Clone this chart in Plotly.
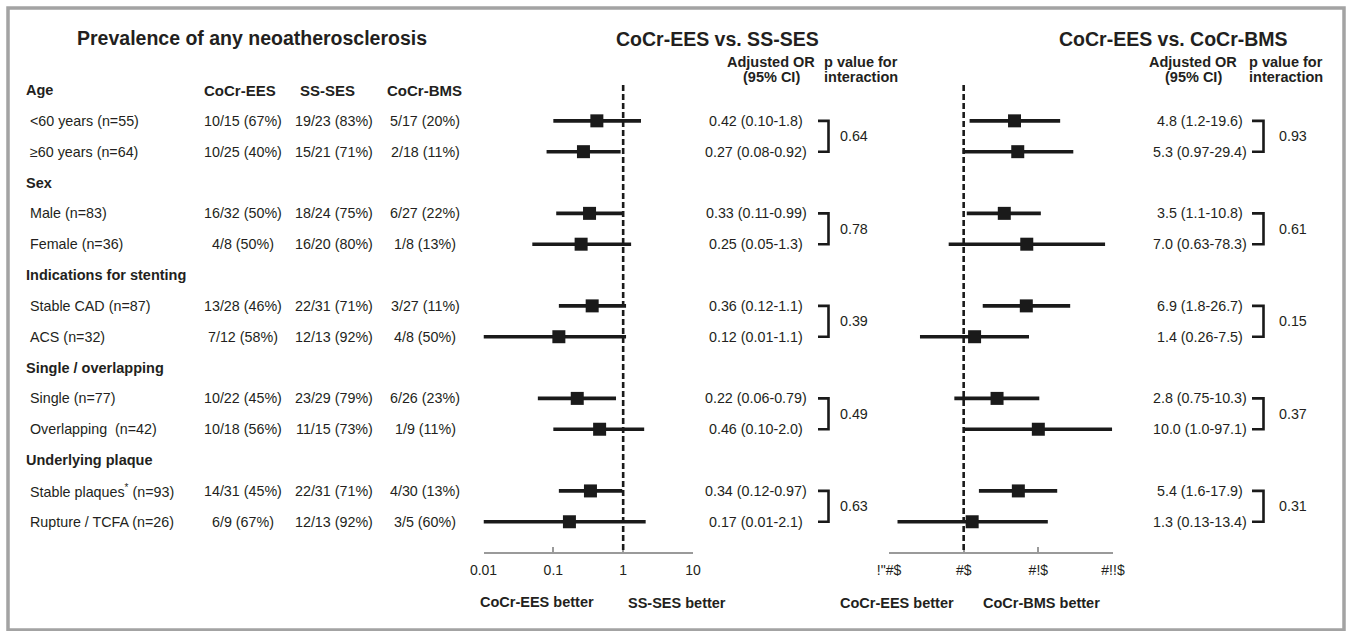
import plotly.graph_objects as go

W, H = 1346, 631

# ---------------- data ----------------
group_names = ["Age", "Sex", "Indications for stenting", "Single / overlapping", "Underlying plaque"]
sub_labels = ["<60 years (n=55)", "≥60 years (n=64)",
              "Male (n=83)", "Female (n=36)",
              "Stable CAD (n=87)", "ACS (n=32)",
              "Single (n=77)", "Overlapping  (n=42)",
              "Stable plaques<sup>*</sup> (n=93)", "Rupture / TCFA (n=26)"]
col_headers = ["CoCr-EES", "SS-SES", "CoCr-BMS"]
ees_counts = ["10/15 (67%)", "10/25 (40%)", "16/32 (50%)", "4/8 (50%)", "13/28 (46%)",
              "7/12 (58%)", "10/22 (45%)", "10/18 (56%)", "14/31 (45%)", "6/9 (67%)"]
ses_counts = ["19/23 (83%)", "15/21 (71%)", "18/24 (75%)", "16/20 (80%)", "22/31 (71%)",
              "12/13 (92%)", "23/29 (79%)", "11/15 (73%)", "22/31 (71%)", "12/13 (92%)"]
bms_counts = ["5/17 (20%)", "2/18 (11%)", "6/27 (22%)", "1/8 (13%)", "3/27 (11%)",
              "4/8 (50%)", "6/26 (23%)", "1/9 (11%)", "4/30 (13%)", "3/5 (60%)"]

or_ses = [0.42, 0.27, 0.33, 0.25, 0.36, 0.12, 0.22, 0.46, 0.34, 0.17]
lo_ses = [0.10, 0.08, 0.11, 0.05, 0.12, 0.01, 0.06, 0.10, 0.12, 0.01]
hi_ses = [1.8, 0.92, 0.99, 1.3, 1.1, 1.1, 0.79, 2.0, 0.97, 2.1]
or_ses_txt = ["0.42 (0.10-1.8)", "0.27 (0.08-0.92)", "0.33 (0.11-0.99)", "0.25 (0.05-1.3)",
              "0.36 (0.12-1.1)", "0.12 (0.01-1.1)", "0.22 (0.06-0.79)", "0.46 (0.10-2.0)",
              "0.34 (0.12-0.97)", "0.17 (0.01-2.1)"]
p_ses = ["0.64", "0.78", "0.39", "0.49", "0.63"]

or_bms = [4.8, 5.3, 3.5, 7.0, 6.9, 1.4, 2.8, 10.0, 5.4, 1.3]
lo_bms = [1.2, 0.97, 1.1, 0.63, 1.8, 0.26, 0.75, 1.0, 1.6, 0.13]
hi_bms = [19.6, 29.4, 10.8, 78.3, 26.7, 7.5, 10.3, 97.1, 17.9, 13.4]
or_bms_txt = ["4.8 (1.2-19.6)", "5.3 (0.97-29.4)", "3.5 (1.1-10.8)", "7.0 (0.63-78.3)",
              "6.9 (1.8-26.7)", "1.4 (0.26-7.5)", "2.8 (0.75-10.3)", "10.0 (1.0-97.1)",
              "5.4 (1.6-17.9)", "1.3 (0.13-13.4)"]
p_bms = ["0.93", "0.61", "0.15", "0.37", "0.31"]

ticks_ses = [0.01, 0.1, 1, 10]
ticktext_ses = ["0.01", "0.1", "1", "10"]
ticks_bms = [0.1, 1, 10, 100]
ticktext_bms = ['!"#$', '#$', '#!$', '#!!$']
REF_OR = 1

# ---------------- layout helpers ----------------
ROW0_PX, ROW_PX = 90.0, 30.84
def row_of_px(py_):
    return (py_ - ROW0_PX) / ROW_PX
def px(x):
    return x / W
def py(y):
    return 1 - y / H

sub_rows = []
for g in range(len(group_names)):
    sub_rows += [3 * g + 1, 3 * g + 2]

INK = "#1a1a1a"
TXT = "#231f20"
FONT = "Liberation Sans, Arial, sans-serif"
BODY = 14.3

fig = go.Figure()

def ci_trace(lo, hi, xa):
    xs, ys = [], []
    for r, a, b in zip(sub_rows, lo, hi):
        xs += [a, b, None]
        ys += [r, r, None]
    return go.Scatter(x=xs, y=ys, mode="lines", xaxis=xa, yaxis="y",
                      line=dict(color=INK, width=3.6), hoverinfo="skip", showlegend=False,
                      cliponaxis=False)

fig.add_trace(ci_trace(lo_ses, hi_ses, "x"))
fig.add_trace(go.Scatter(x=or_ses, y=sub_rows, mode="markers", xaxis="x", yaxis="y",
                         marker=dict(symbol="square", size=13, color=INK), showlegend=False,
                         cliponaxis=False))
fig.add_trace(ci_trace(lo_bms, hi_bms, "x2"))
fig.add_trace(go.Scatter(x=or_bms, y=sub_rows, mode="markers", xaxis="x2", yaxis="y",
                         marker=dict(symbol="square", size=13, color=INK), showlegend=False,
                         cliponaxis=False))

ann = []
def T(x, y, text, size=BODY, bold=False, xanchor="center", yref="y", color=TXT):
    if bold:
        text = "<b>" + text + "</b>"
    ann.append(dict(x=x, y=y, xref="paper", yref=yref, text=text, showarrow=False,
                    xanchor=xanchor, yanchor="middle", font=dict(family=FONT, size=size, color=color)))

# titles
T(px(252), row_of_px(38), "Prevalence of any neoatherosclerosis", size=19.5, bold=True)
T(px(717), row_of_px(39), "CoCr-EES vs. SS-SES", size=19.5, bold=True)
T(px(1173), row_of_px(39), "CoCr-EES vs. CoCr-BMS", size=19.5, bold=True)
for cx_or, cx_p in [(771, 861), (1193, 1286)]:
    T(px(cx_or), row_of_px(62), "Adjusted OR", size=14.5, bold=True)
    T(px(cx_or), row_of_px(77), "(95% CI)", size=14.5, bold=True)
    T(px(cx_p), row_of_px(62), "p value for", size=14.5, bold=True)
    T(px(cx_p), row_of_px(77), "interaction", size=14.5, bold=True)

# column headers
for cx, h in zip([240, 327, 424], col_headers):
    T(px(cx), 0, h, size=15, bold=True)

# group headers and rows
for g, name in enumerate(group_names):
    T(px(24), 3 * g, name, size=14.5, bold=True, xanchor="left")
for i, r in enumerate(sub_rows):
    T(px(28), r, sub_labels[i], xanchor="left")
    T(px(243), r, ees_counts[i])
    T(px(334), r, ses_counts[i])
    T(px(425), r, bms_counts[i])
    T(px(756), r, or_ses_txt[i])
    T(px(1200), r, or_bms_txt[i])

shapes = []
# brackets + p values
for g in range(len(group_names)):
    r1, r2 = 3 * g + 1, 3 * g + 2
    for (xa, xb, xp, ptxt) in [(818, 828.5, 854, p_ses[g]), (1252, 1263.5, 1293, p_bms[g])]:
        shapes.append(dict(type="path", xref="paper", yref="y",
                           path=f"M {px(xa)},{r1} L {px(xb)},{r1} L {px(xb)},{r2} L {px(xa)},{r2}",
                           line=dict(color=INK, width=2.6)))
        T(px(xp), (r1 + r2) / 2, ptxt)

# reference lines at OR = 1
for xr in ["x", "x2"]:
    shapes.append(dict(type="line", xref=xr, yref="y", x0=REF_OR, x1=REF_OR,
                       y0=row_of_px(85), y1=row_of_px(552.5),
                       line=dict(color=INK, width=2.6, dash="6px,3px")))

# bottom labels
T(px(537), row_of_px(602), "CoCr-EES better", size=14.5, bold=True)
T(px(677), row_of_px(603), "SS-SES better", size=14.5, bold=True)
T(px(897), row_of_px(603), "CoCr-EES better", size=14.5, bold=True)
T(px(1041), row_of_px(603), "CoCr-BMS better", size=14.5, bold=True)

# frame
shapes.append(dict(type="rect", xref="paper", yref="paper", x0=px(8), x1=px(1344),
                   y0=py(630), y1=py(8), line=dict(color="#a3a3a3", width=3.5), layer="below"))

axis_pos = py(552.5)
common_x = dict(type="log", anchor="free", position=axis_pos, showgrid=False, zeroline=False,
                showline=True, linecolor="#9a9a9a", linewidth=2, ticks="inside", ticklen=5,
                tickwidth=2, tickcolor="#9a9a9a", tickfont=dict(family=FONT, size=14, color=TXT),
                ticklabelstandoff=5, fixedrange=True, automargin=False)

fig.update_layout(
    width=W, height=H, autosize=False, margin=dict(l=0, r=0, t=0, b=0, pad=0),
    paper_bgcolor="white", plot_bgcolor="rgba(0,0,0,0)",
    xaxis=dict(domain=[px(483.5), px(693)], range=[-2, 1], tickvals=ticks_ses,
               ticktext=ticktext_ses, **common_x),
    xaxis2=dict(domain=[px(889), px(1113)], range=[-1, 2], tickvals=ticks_bms,
                ticktext=ticktext_bms, **common_x),
    yaxis=dict(domain=[0, 1], range=[row_of_px(H), row_of_px(0)], visible=False,
               fixedrange=True, automargin=False),
    annotations=ann, shapes=shapes, showlegend=False,
)

fig.write_html("out.html", config={"responsive": False, "displayModeBar": False},
               post_script="document.body.style.margin='0';document.body.style.overflow='hidden';")
